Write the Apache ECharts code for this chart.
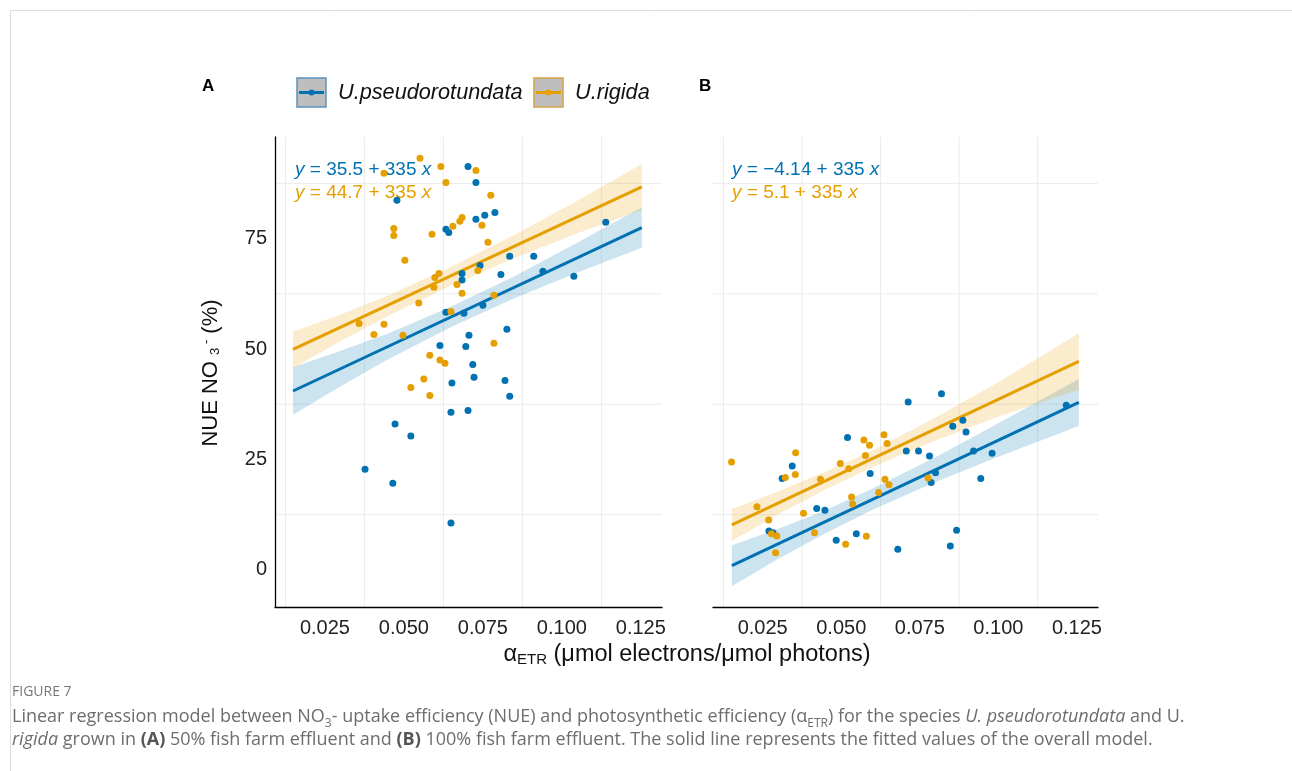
<!DOCTYPE html>
<html>
<head>
<meta charset="utf-8">
<title>NUE NO3 vs alpha ETR</title>
<script src="https://cdn.jsdelivr.net/npm/echarts@6/dist/echarts.min.js"></script>
<style>
  html, body { margin: 0; padding: 0; background: #fff; }
  #chart { width: 1292px; height: 771px; }
</style>
</head>
<body>
<div id="chart"></div>
<script>
// ticks and grid lines (grid lines sit halfway between labels in the original)
const xTicks = [0.025, 0.05, 0.075, 0.1, 0.125];
const yTicks = [0, 25, 50, 75];
const xGrid = [0.0125, 0.0375, 0.0625, 0.0875, 0.1125];
const yGrid = [12.5, 37.5, 62.5, 87.5];

// panel A: 50% effluent  [alphaETR, NUE]
const aPseudo = [
  [0.0703, 91.3], [0.0728, 87.7], [0.0478, 83.7], [0.0728, 79.4], [0.0756, 80.3],
  [0.0788, 80.9], [0.0633, 77.1], [0.0642, 76.4], [0.0835, 71.0], [0.0911, 71.0],
  [0.0741, 68.9], [0.0684, 67.1], [0.0684, 65.6], [0.0807, 66.9], [0.0940, 67.6],
  [0.1038, 66.5], [0.1139, 78.7], [0.0633, 58.3], [0.0690, 58.1], [0.0750, 59.9],
  [0.0826, 54.5], [0.0706, 53.1], [0.0614, 50.8], [0.0696, 50.6], [0.0718, 46.5],
  [0.0722, 43.6], [0.0652, 42.3], [0.0820, 42.9], [0.0835, 39.3], [0.0649, 35.7],
  [0.0703, 36.1], [0.0472, 33.0], [0.0522, 30.3], [0.0377, 22.8], [0.0465, 19.6],
  [0.0649, 10.6]
];
const aRigida = [
  [0.0551, 93.2], [0.0617, 91.3], [0.0633, 87.7], [0.0728, 90.4], [0.0775, 84.8],
  [0.0468, 77.3], [0.0468, 75.7], [0.0589, 76.0], [0.0655, 77.8], [0.0677, 78.9],
  [0.0684, 79.8], [0.0747, 78.0], [0.0766, 74.2], [0.0503, 70.1], [0.0611, 67.1],
  [0.0598, 66.2], [0.0595, 64.0], [0.0668, 64.6], [0.0684, 62.6], [0.0734, 67.8],
  [0.0547, 60.4], [0.0358, 55.8], [0.0437, 55.6], [0.0405, 53.3], [0.0497, 53.1],
  [0.0649, 58.5], [0.0785, 51.3], [0.0582, 48.6], [0.0614, 47.5], [0.0630, 46.8],
  [0.0437, 89.8], [0.0785, 62.2], [0.0563, 43.2], [0.0522, 41.3], [0.0582, 39.5]
];

// panel B: 100% effluent
const bPseudo = [
  [0.0312, 20.7], [0.0344, 23.5], [0.0270, 8.8], [0.0283, 8.4], [0.0422, 13.9],
  [0.0448, 13.5], [0.0520, 30.0], [0.0592, 21.8], [0.0484, 6.7], [0.0548, 8.2],
  [0.0680, 4.7], [0.0713, 38.0], [0.0707, 26.9], [0.0819, 39.9], [0.0855, 32.5],
  [0.0887, 33.9], [0.0897, 31.2], [0.0746, 26.9], [0.0781, 25.8], [0.0921, 26.9],
  [0.0980, 26.4], [0.0800, 22.0], [0.0786, 19.8], [0.0944, 20.7], [0.1216, 37.3],
  [0.0867, 9.0], [0.0847, 5.4]
];
const bRigida = [
  [0.0151, 24.4], [0.0232, 14.3], [0.0269, 11.3], [0.0278, 8.2], [0.0295, 7.7],
  [0.0291, 3.9], [0.0322, 20.9], [0.0354, 21.6], [0.0355, 26.5], [0.0380, 12.8],
  [0.0415, 8.4], [0.0434, 20.5], [0.0497, 24.1], [0.0524, 22.9], [0.0533, 16.5],
  [0.0536, 14.9], [0.0514, 5.8], [0.0572, 29.4], [0.0590, 28.2], [0.0577, 25.9],
  [0.0580, 7.6], [0.0619, 17.5], [0.0639, 20.5], [0.0652, 19.3], [0.0636, 30.6],
  [0.0646, 28.6], [0.0776, 20.8]
];

// fitted lines (end points) and confidence ribbons
const aPseudoFit = [[0.0149, 40.5], [0.1253, 77.5]];
const aRigidaFit = [[0.0149, 49.9], [0.1253, 86.7]];
const bPseudoFit = [[0.0152, 0.95], [0.1256, 37.9]];
const bRigidaFit = [[0.0152, 10.2], [0.1256, 47.2]];

const aBandX = [0.0149, 0.03, 0.045, 0.065, 0.085, 0.105, 0.1253];
const aPseudoLo = [35.1, 41.6, 47.7, 55.0, 61.5, 67.3, 72.9];
const aPseudoHi = [45.9, 49.6, 53.5, 59.6, 66.5, 74.1, 82.1];
const aRigidaLo = [45.7, 51.8, 57.5, 64.4, 70.6, 76.2, 81.5];
const aRigidaHi = [53.9, 57.8, 62.1, 68.6, 75.8, 83.6, 91.9];

const bBandX = [0.0152, 0.03, 0.045, 0.06, 0.08, 0.1, 0.1256];
const bPseudoLo = [-3.7, 2.5, 8.3, 13.6, 19.9, 25.6, 32.6];
const bPseudoHi = [5.6, 9.3, 13.5, 18.4, 25.5, 33.2, 43.2];
const bRigidaLo = [6.6, 12.6, 18.2, 23.3, 29.3, 34.7, 40.8];
const bRigidaHi = [13.8, 17.8, 22.2, 27.1, 34.5, 42.5, 53.6];

const BLUE = '#0072B2';
const ORANGE = '#E69F00';
const FONT = '"Liberation Sans", Arial, sans-serif';
const CAP_FONT = '"Open Sans", Lato, sans-serif';

const chart = echarts.init(document.getElementById('chart'));

function xAxisFor(i) {
  return {
    gridIndex: i, type: 'value', min: 0.0092, max: 0.1317,
    axisLine: { show: true, onZero: false, lineStyle: { color: '#000', width: 1.3 } },
    axisTick: { show: false },
    splitLine: { show: false },
    axisLabel: {
      customValues: xTicks, formatter: v => v.toFixed(3),
      fontSize: 20, color: '#222', fontFamily: FONT, margin: 11
    }
  };
}

function yAxisFor(i, showAxis) {
  return {
    gridIndex: i, type: 'value', min: -8.4, max: 98,
    axisLine: { show: showAxis, onZero: false, lineStyle: { color: '#000', width: 1.3 } },
    axisTick: { show: false },
    splitLine: { show: false },
    axisLabel: {
      show: showAxis, customValues: yTicks,
      fontSize: 20, color: '#222', fontFamily: FONT, margin: 8
    }
  };
}

// light panel grid, drawn through the axes' own scales
function gridLines(i, values, vertical) {
  return {
    type: 'custom', xAxisIndex: i, yAxisIndex: i, z: 0, silent: true, clip: true,
    data: values.map(v => vertical ? [v, 50] : [0.05, v]),
    renderItem: (params, api) => {
      const cs = params.coordSys;
      const p = api.coord([api.value(0), api.value(1)]);
      const shape = vertical
        ? { x1: p[0], y1: cs.y, x2: p[0], y2: cs.y + cs.height }
        : { x1: cs.x, y1: p[1], x2: cs.x + cs.width, y2: p[1] };
      return { type: 'line', shape: shape, style: { stroke: '#ebebeb', lineWidth: 1 } };
    }
  };
}

function band(i, xs, lo, hi, fill) {
  return {
    type: 'custom', xAxisIndex: i, yAxisIndex: i, z: 1, silent: true,
    data: xs.map((x, k) => [x, lo[k], hi[k]]),
    encode: { x: 0, y: [1, 2] },
    renderItem: (params, api) => {
      if (params.dataIndex !== 0) return null;
      const top = xs.map((x, k) => api.coord([x, hi[k]]));
      const bot = xs.map((x, k) => api.coord([x, lo[k]])).reverse();
      return { type: 'polygon', shape: { points: top.concat(bot) }, style: { fill: fill } };
    }
  };
}

function fit(i, pts, color) {
  return {
    type: 'line', xAxisIndex: i, yAxisIndex: i, data: pts, z: 2,
    symbol: 'none', silent: true, lineStyle: { color: color, width: 3 }
  };
}

function dots(i, pts, color) {
  return {
    type: 'scatter', xAxisIndex: i, yAxisIndex: i, data: pts, z: 3,
    symbolSize: 7, itemStyle: { color: color, opacity: 1 }
  };
}

function eqText(x, y, body, color) {
  return {
    type: 'text', x: x, y: y,
    style: {
      text: '{i|y} = ' + body + ' {i|x}',
      fill: color, font: '19px ' + FONT, verticalAlign: 'middle',
      rich: {
        i: { fontStyle: 'italic', fontSize: 19, fontFamily: FONT, fill: color }
      }
    }
  };
}

function legendItem(x, label, color, edge) {
  return [
    { type: 'rect', shape: { x: x, y: 78, width: 29, height: 29 },
      style: { fill: '#bebebe', stroke: edge, lineWidth: 1.5 } },
    { type: 'line', shape: { x1: x + 2, y1: 92.5, x2: x + 27, y2: 92.5 },
      style: { stroke: color, lineWidth: 3 } },
    { type: 'circle', shape: { cx: x + 14.5, cy: 92.5, r: 3 }, style: { fill: color } },
    { type: 'text', x: x + 41, y: 93,
      style: { text: label, fill: '#111', font: 'italic 21.7px ' + FONT, verticalAlign: 'middle' } }
  ];
}

const capRich = {
  n: { fontSize: 18, fontFamily: CAP_FONT, fill: '#6d6d6d' },
  s: { fontSize: 12, fontFamily: CAP_FONT, fill: '#6d6d6d', verticalAlign: 'bottom', padding: [0, 0, -4, 0] },
  it: { fontSize: 18, fontFamily: CAP_FONT, fill: '#6d6d6d', fontStyle: 'italic' },
  b: { fontSize: 18, fontFamily: CAP_FONT, fill: '#555', fontWeight: 'bold' }
};

chart.setOption({
  animation: false,
  grid: [
    { left: 275, top: 137, width: 387, height: 470 },
    { left: 713, top: 137, width: 385, height: 470 }
  ],
  xAxis: [xAxisFor(0), xAxisFor(1)],
  yAxis: [yAxisFor(0, true), yAxisFor(1, false)],
  series: [
    gridLines(0, xGrid, true), gridLines(0, yGrid, false),
    gridLines(1, xGrid, true), gridLines(1, yGrid, false),
    band(0, aBandX, aPseudoLo, aPseudoHi, 'rgba(0,114,178,0.2)'),
    band(0, aBandX, aRigidaLo, aRigidaHi, 'rgba(230,159,0,0.2)'),
    band(1, bBandX, bPseudoLo, bPseudoHi, 'rgba(0,114,178,0.2)'),
    band(1, bBandX, bRigidaLo, bRigidaHi, 'rgba(230,159,0,0.2)'),
    fit(0, aPseudoFit, BLUE), fit(0, aRigidaFit, ORANGE),
    fit(1, bPseudoFit, BLUE), fit(1, bRigidaFit, ORANGE),
    dots(0, aPseudo, BLUE), dots(0, aRigida, ORANGE),
    dots(1, bPseudo, BLUE), dots(1, bRigida, ORANGE)
  ],
  graphic: [
    { type: 'rect', shape: { x: 10.5, y: 10.5, width: 1300, height: 800 },
      style: { fill: 'none', stroke: '#dcdcdc', lineWidth: 1 }, silent: true },
    { type: 'text', x: 202, y: 86,
      style: { text: 'A', fill: '#000', font: 'bold 17px ' + FONT, verticalAlign: 'middle' } },
    { type: 'text', x: 699, y: 86,
      style: { text: 'B', fill: '#000', font: 'bold 17px ' + FONT, verticalAlign: 'middle' } },
    ...legendItem(297, 'U.pseudorotundata', BLUE, '#5a92bf'),
    ...legendItem(534, 'U.rigida', ORANGE, '#d3a449'),
    eqText(295, 170, '35.5 + 335', BLUE),
    eqText(295, 193, '44.7 + 335', ORANGE),
    eqText(732, 170, '\u22124.14 + 335', BLUE),
    eqText(732, 193, '5.1 + 335', ORANGE),
    { type: 'text', x: 211, y: 373, rotation: Math.PI / 2,
      style: {
        text: '{n|NUE NO }{s|3}{p| -}{n| (%)}', align: 'center', verticalAlign: 'middle',
        rich: {
          n: { fontSize: 22, fontFamily: FONT, fill: '#111' },
          s: { fontSize: 13, fontFamily: FONT, fill: '#111', verticalAlign: 'bottom' },
          p: { fontSize: 13, fontFamily: FONT, fill: '#111', verticalAlign: 'top' }
        }
      } },
    { type: 'text', x: 687, y: 655,
      style: {
        text: '{n|\u03b1}{s|ETR}{n| (\u03bcmol electrons/\u03bcmol photons)}', align: 'center', verticalAlign: 'middle',
        rich: {
          n: { fontSize: 23.5, fontFamily: FONT, fill: '#111' },
          s: { fontSize: 15, fontFamily: FONT, fill: '#111', verticalAlign: 'bottom' }
        }
      } },
    { type: 'text', x: 12, y: 692,
      style: { text: 'FIGURE 7', fill: '#777', font: '14px ' + CAP_FONT, verticalAlign: 'middle' } },
    { type: 'text', x: 12, y: 717,
      style: {
        text: '{n|Linear regression model between NO}{s|3}{n|- uptake efficiency (NUE) and photosynthetic efficiency (\u03b1}{s|ETR}{n|) for the species }{it|U. pseudorotundata}{n| and U.}',
        verticalAlign: 'middle', rich: capRich
      } },
    { type: 'text', x: 12, y: 740,
      style: {
        text: '{it|rigida}{n| grown in }{b|(A)}{n| 50% fish farm effluent and }{b|(B)}{n| 100% fish farm effluent. The solid line represents the fitted values of the overall model.}',
        verticalAlign: 'middle', rich: capRich
      } }
  ]
});
</script>
</body>
</html>
